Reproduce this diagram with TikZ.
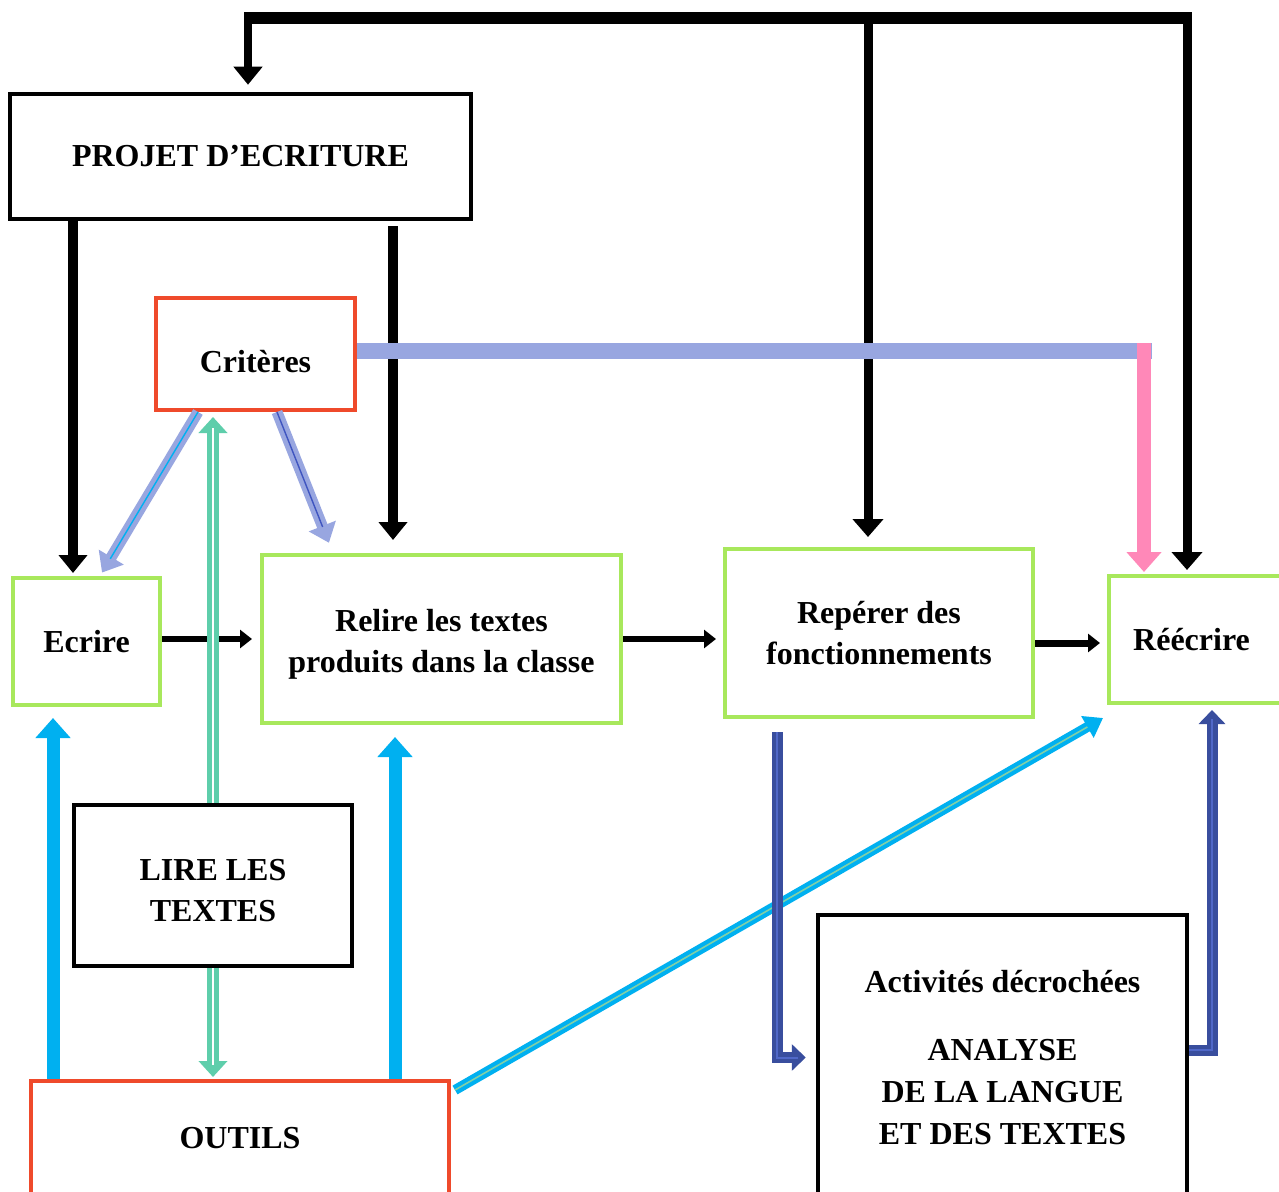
\documentclass[tikz,border=0pt]{standalone}
\usepackage{fontspec}
\setmainfont{Liberation Serif}
\usetikzlibrary{arrows.meta,calc}
\definecolor{cred}{HTML}{EF4A2B}
\definecolor{cgreen}{HTML}{A8E85C}
\definecolor{clav}{HTML}{98A6E0}
\definecolor{cpink}{HTML}{FF88B8}
\definecolor{cteal}{HTML}{5ECEAB}
\definecolor{ccyan}{HTML}{00B0F0}
\definecolor{cnavy}{HTML}{394E9E}
\definecolor{cnavyin}{HTML}{5068C8}
\definecolor{cdiagin}{HTML}{80D0A8}
\definecolor{clavin}{HTML}{3F55C0}
\newcommand{\lowtxt}[2]{\raisebox{-#1}[\height][\depth]{#2}}
\begin{document}
\begin{tikzpicture}[x=0.5pt,y=-0.5pt,
  font=\fontsize{16}{20.5}\selectfont\bfseries,
  box/.style={draw, align=center, inner sep=0pt},
  kbox/.style={box, draw=black, line width=2.25pt},
  rbox/.style={box, draw=cred, line width=2pt},
  gbox/.style={box, draw=cgreen, line width=2pt},
  tipk/.style={-{Triangle[width=14pt,length=9pt]}},
  tips/.style={-{Triangle[width=9pt,length=6pt]}},
  line join=miter]
\clip (0,0) rectangle (1279,1192);
\fill[white] (0,0) rectangle (1279,1192);

% boxes
\node[kbox, minimum width=230.5pt, minimum height=62.5pt] (proj) at (240.5,156.5) {PROJET D’ECRITURE};
\node[rbox, minimum width=99.5pt, minimum height=56pt] (crit) at (255.5,354) {\lowtxt{4pt}{Critères}};
\node[gbox, minimum width=73.5pt, minimum height=63.5pt] (ecr) at (86.5,641.5) {Ecrire};
\node[gbox, minimum width=179.5pt, minimum height=84pt] (rel) at (441.5,639) {\lowtxt{2.2pt}{\begin{tabular}{@{}c@{}}Relire les textes\\produits dans la classe\end{tabular}}};
\node[gbox, minimum width=154pt, minimum height=84pt] (rep) at (879,633) {Repérer des\\fonctionnements};
\node[gbox, minimum width=87.5pt, minimum height=63.5pt] (reec) at (1196.5,639.5) {Réécrire\kern5pt};
\node[kbox, minimum width=139pt, minimum height=80.5pt] (lire) at (213,885.5) {\lowtxt{3.5pt}{\begin{tabular}{@{}c@{}}LIRE LES\\TEXTES\end{tabular}}};
\node[rbox, minimum width=209pt, minimum height=59.5pt] (outils) at (240,1140.5) {\lowtxt{-1pt}{OUTILS}};
\node[kbox, minimum width=184.5pt, minimum height=142.5pt, font=\fontsize{16}{21}\selectfont\bfseries] (act) at (1002.5,1057.5) {Activités décrochées\\[13pt]ANALYSE\\DE LA LANGUE\\ET DES TEXTES};

% helper coordinates
\coordinate (X53) at (53,0);
\coordinate (X73) at (73,0);
\coordinate (X100) at (100,0);
\coordinate (X198) at (198,0);
\coordinate (X277) at (277,0);
\coordinate (X333) at (333,0);
\coordinate (X393) at (393,0);
\coordinate (X395) at (395,0);
\coordinate (X777) at (777,0);
\coordinate (X1212) at (1212,0);
\coordinate (Y1050) at (0,1050);
\coordinate (Y639) at (0,639);
\coordinate (Y643) at (0,643);
\coordinate (T248) at (248,18);
\coordinate (T868) at (868,18);
\coordinate (T1187) at (1187,18);
\coordinate (K) at (1152,351);
\coordinate (P) at (1144,343);
\coordinate (D1) at (455,1090);
\coordinate (D2) at (1103,718);

% black arrows from PROJET
\draw[line width=5pt, tipk, shorten >=1.5pt] (proj.south -| X73) -- (ecr.north -| X73);
\draw[line width=5pt, tipk, shorten <=2.5pt, shorten >=6.5pt] (proj.south -| X393) -- (rel.north -| X393);

% top loop
\draw[line width=4pt, tipk, shorten >=3.5pt] (T248) -- (proj.north -| T248);
\draw[line width=4.5pt, -{Triangle[width=15pt,length=9pt]}, shorten >=5pt] (T868) -- (rep.north -| T868);
\draw[line width=4.5pt, -{Triangle[width=15pt,length=9pt]}, shorten >=2pt] (T1187) -- (reec.north -| T1187);
\draw[line width=6pt] ([xshift=-2pt]T248) -- ([xshift=2.25pt]T1187);

% chain
\draw[line width=3pt, tips, shorten >=4pt] (ecr.east |- Y639) -- (rel.west |- Y639);
\draw[line width=3pt, tips, shorten >=3.5pt] (rel.east) -- (rep.west |- rel.east);
\draw[line width=3.5pt, tips, shorten >=3.5pt] (rep.east |- Y643) -- (reec.west |- Y643);

% criteres -> reecrire
\draw[clav, line width=8pt] (crit.east |- K) -- (K);
\draw[cpink, line width=7pt, -{Triangle[width=17pt,length=10pt]}, shorten >=1pt] (P) -- (reec.north -| P);

% criteres diagonals
\draw[clav, line width=5.5pt, -{Triangle[width=14pt,length=9pt]}, shorten >=2pt] (crit.south -| X198) -- (ecr.north -| X100);
\draw[ccyan, line width=0.7pt, shorten >=10pt] (crit.south -| X198) -- (ecr.north -| X100);
\draw[clav, line width=5.5pt, -{Triangle[width=14pt,length=9pt]}, shorten >=5.5pt] (crit.south -| X277) -- (rel.north -| X333);
\draw[clavin, line width=0.7pt, shorten >=14pt] (crit.south -| X277) -- (rel.north -| X333);

% green double arrows
\draw[cteal, line width=6pt, -{Triangle[width=14pt,length=8pt]}, shorten >=2.5pt] (lire.north) -- (crit.south -| lire.north);
\draw[white, line width=1.2pt, shorten >=8pt] (lire.north) -- (crit.south -| lire.north);
\draw[cteal, line width=6pt, -{Triangle[width=14pt,length=8pt]}, shorten >=1pt] (lire.south) -- (outils.north -| lire.south);
\draw[white, line width=1.2pt, shorten >=7pt] (lire.south) -- (outils.north -| lire.south);

% cyan arrows from OUTILS
\draw[ccyan, line width=6.5pt, -{Triangle[width=17pt,length=10pt]}, shorten >=5.5pt] (outils.north -| X53) -- (ecr.south -| X53);
\draw[ccyan, line width=6.5pt, -{Triangle[width=17pt,length=10pt]}, shorten >=6pt] (outils.north -| X395) -- (rel.south -| X395);
\draw[ccyan, line width=5pt, -{Triangle[width=12pt,length=9pt]}] (D1) -- (D2);
\draw[cdiagin, line width=0.8pt, shorten >=9pt] (D1) -- (D2);

% navy arrows
\draw[cnavy, line width=5.5pt, -{Triangle[width=13pt,length=7pt]}, shorten <=6.5pt, shorten >=5pt] (rep.south -| X777) |- (act.west);
\draw[cnavyin, line width=1pt, shorten <=6.5pt, shorten >=9pt] (rep.south -| X777) |- (act.west);
\draw[cnavy, line width=5.5pt, -{Triangle[width=13pt,length=7pt]}, shorten >=2.5pt] (act.east |- Y1050) -| (reec.south -| X1212);
\draw[cnavyin, line width=1pt, shorten >=7pt] (act.east |- Y1050) -| (reec.south -| X1212);
\end{tikzpicture}
\end{document}
